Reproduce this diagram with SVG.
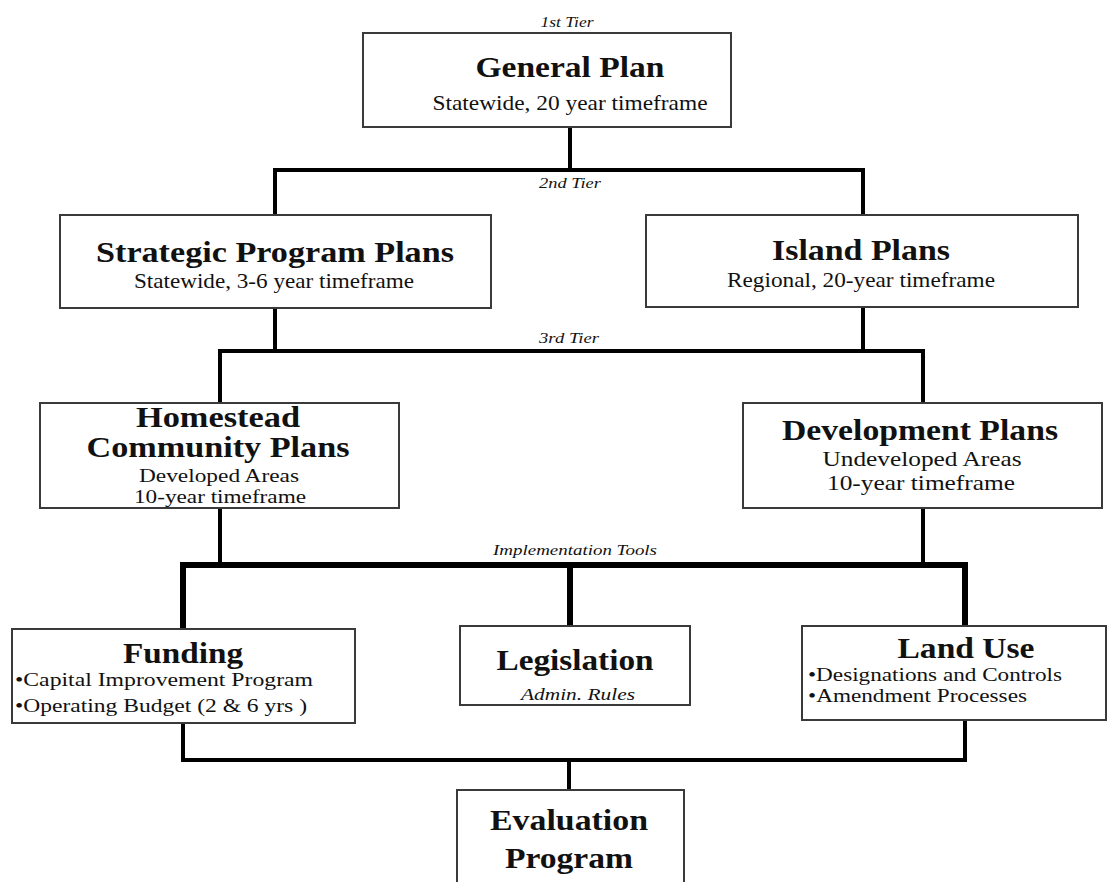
<svg xmlns="http://www.w3.org/2000/svg" width="1119" height="882" viewBox="0 0 1119 882">
<style>
.box{fill:#fff;stroke:#3a3a3a;stroke-width:2}
.t{font-family:"Liberation Serif","Times New Roman",Times,serif;font-weight:bold;font-size:30px;fill:#111;text-anchor:middle}
.s{font-family:"Liberation Serif","Times New Roman",Times,serif;font-size:21px;fill:#111;text-anchor:middle}
.b{font-family:"Liberation Serif","Times New Roman",Times,serif;font-size:19px;fill:#111}
.tier{font-family:"Liberation Serif","Times New Roman",Times,serif;font-style:italic;font-size:14px;fill:#111;text-anchor:middle}
.c{fill:none;stroke:#000;stroke-width:4;stroke-linejoin:miter;stroke-linecap:square}
</style>
<rect width="1119" height="882" fill="#fff"/>
<g id="connectors">
<path class="c" d="M570 128 V170"/>
<path class="c" d="M275 214 V170 H863 V214"/>
<path class="c" d="M220 402 V351 H275 V309 M275 351 H863 V308 M863 351 H923 V402"/>
<path class="c" d="M220 509 V565 M923 509 V565"/>
<path class="c" style="stroke-width:6" d="M183 628 V565 H965 V625 M570 565 V625"/>
<path class="c" d="M183 724 V760 H965 V721 M569 760 V789"/>
</g>
<g id="labels">
<text class="tier" x="567" y="27" textLength="53" lengthAdjust="spacingAndGlyphs">1st Tier</text>
<text class="tier" x="570" y="188" textLength="62" lengthAdjust="spacingAndGlyphs">2nd Tier</text>
<text class="tier" x="569" y="343" textLength="60" lengthAdjust="spacingAndGlyphs">3rd Tier</text>
<text class="tier" x="575" y="555" textLength="164" lengthAdjust="spacingAndGlyphs">Implementation Tools</text>
</g>
<g id="general-plan">
<rect class="box" x="363" y="33" width="368" height="94"/>
<text class="t" x="570" y="77" textLength="189" lengthAdjust="spacingAndGlyphs">General Plan</text>
<text class="s" x="570" y="110" textLength="275" lengthAdjust="spacingAndGlyphs">Statewide, 20 year timeframe</text>
</g>
<g id="strategic-program-plans">
<rect class="box" x="60" y="215" width="431" height="93"/>
<text class="t" x="275" y="262" textLength="358" lengthAdjust="spacingAndGlyphs">Strategic Program Plans</text>
<text class="s" x="274" y="288" textLength="280" lengthAdjust="spacingAndGlyphs">Statewide, 3-6 year timeframe</text>
</g>
<g id="island-plans">
<rect class="box" x="646" y="215" width="432" height="92"/>
<text class="t" x="861" y="260" textLength="178" lengthAdjust="spacingAndGlyphs">Island Plans</text>
<text class="s" x="861" y="287" textLength="268" lengthAdjust="spacingAndGlyphs">Regional, 20-year timeframe</text>
</g>
<g id="homestead-community-plans">
<rect class="box" x="40" y="403" width="359" height="105"/>
<text class="t" x="218" y="427" textLength="164" lengthAdjust="spacingAndGlyphs">Homestead</text>
<text class="t" x="218" y="457" textLength="263" lengthAdjust="spacingAndGlyphs">Community Plans</text>
<text class="s" style="font-size:18px" x="219" y="482" textLength="160" lengthAdjust="spacingAndGlyphs">Developed Areas</text>
<text class="s" style="font-size:18px" x="220" y="503" textLength="172" lengthAdjust="spacingAndGlyphs">10-year timeframe</text>
</g>
<g id="development-plans">
<rect class="box" x="743" y="403" width="359" height="105"/>
<text class="t" x="920" y="440" textLength="276" lengthAdjust="spacingAndGlyphs">Development Plans</text>
<text class="s" x="922" y="466" textLength="199" lengthAdjust="spacingAndGlyphs">Undeveloped Areas</text>
<text class="s" x="921" y="490" textLength="188" lengthAdjust="spacingAndGlyphs">10-year timeframe</text>
</g>
<g id="funding">
<rect class="box" x="12" y="629" width="343" height="94"/>
<text class="t" x="183" y="663" textLength="120" lengthAdjust="spacingAndGlyphs">Funding</text>
<text class="b" x="15" y="686" textLength="298" lengthAdjust="spacingAndGlyphs">•Capital Improvement Program</text>
<text class="b" x="15" y="712" textLength="292" lengthAdjust="spacingAndGlyphs">•Operating Budget (2 &amp; 6 yrs )</text>
</g>
<g id="legislation">
<rect class="box" x="460" y="626" width="230" height="79"/>
<text class="t" x="575" y="670" textLength="157" lengthAdjust="spacingAndGlyphs">Legislation</text>
<text class="s" style="font-style:italic;font-size:17px" x="578" y="700" textLength="114" lengthAdjust="spacingAndGlyphs">Admin. Rules</text>
</g>
<g id="land-use">
<rect class="box" x="802" y="626" width="304" height="94"/>
<text class="t" x="966" y="658" textLength="137" lengthAdjust="spacingAndGlyphs">Land Use</text>
<text class="b" x="808" y="681" textLength="254" lengthAdjust="spacingAndGlyphs">•Designations and Controls</text>
<text class="b" x="808" y="702" textLength="219" lengthAdjust="spacingAndGlyphs">•Amendment Processes</text>
</g>
<g id="evaluation-program">
<rect class="box" x="457" y="790" width="227" height="100"/>
<text class="t" x="569" y="830" textLength="158" lengthAdjust="spacingAndGlyphs">Evaluation</text>
<text class="t" x="569" y="868" textLength="128" lengthAdjust="spacingAndGlyphs">Program</text>
</g>
</svg>
